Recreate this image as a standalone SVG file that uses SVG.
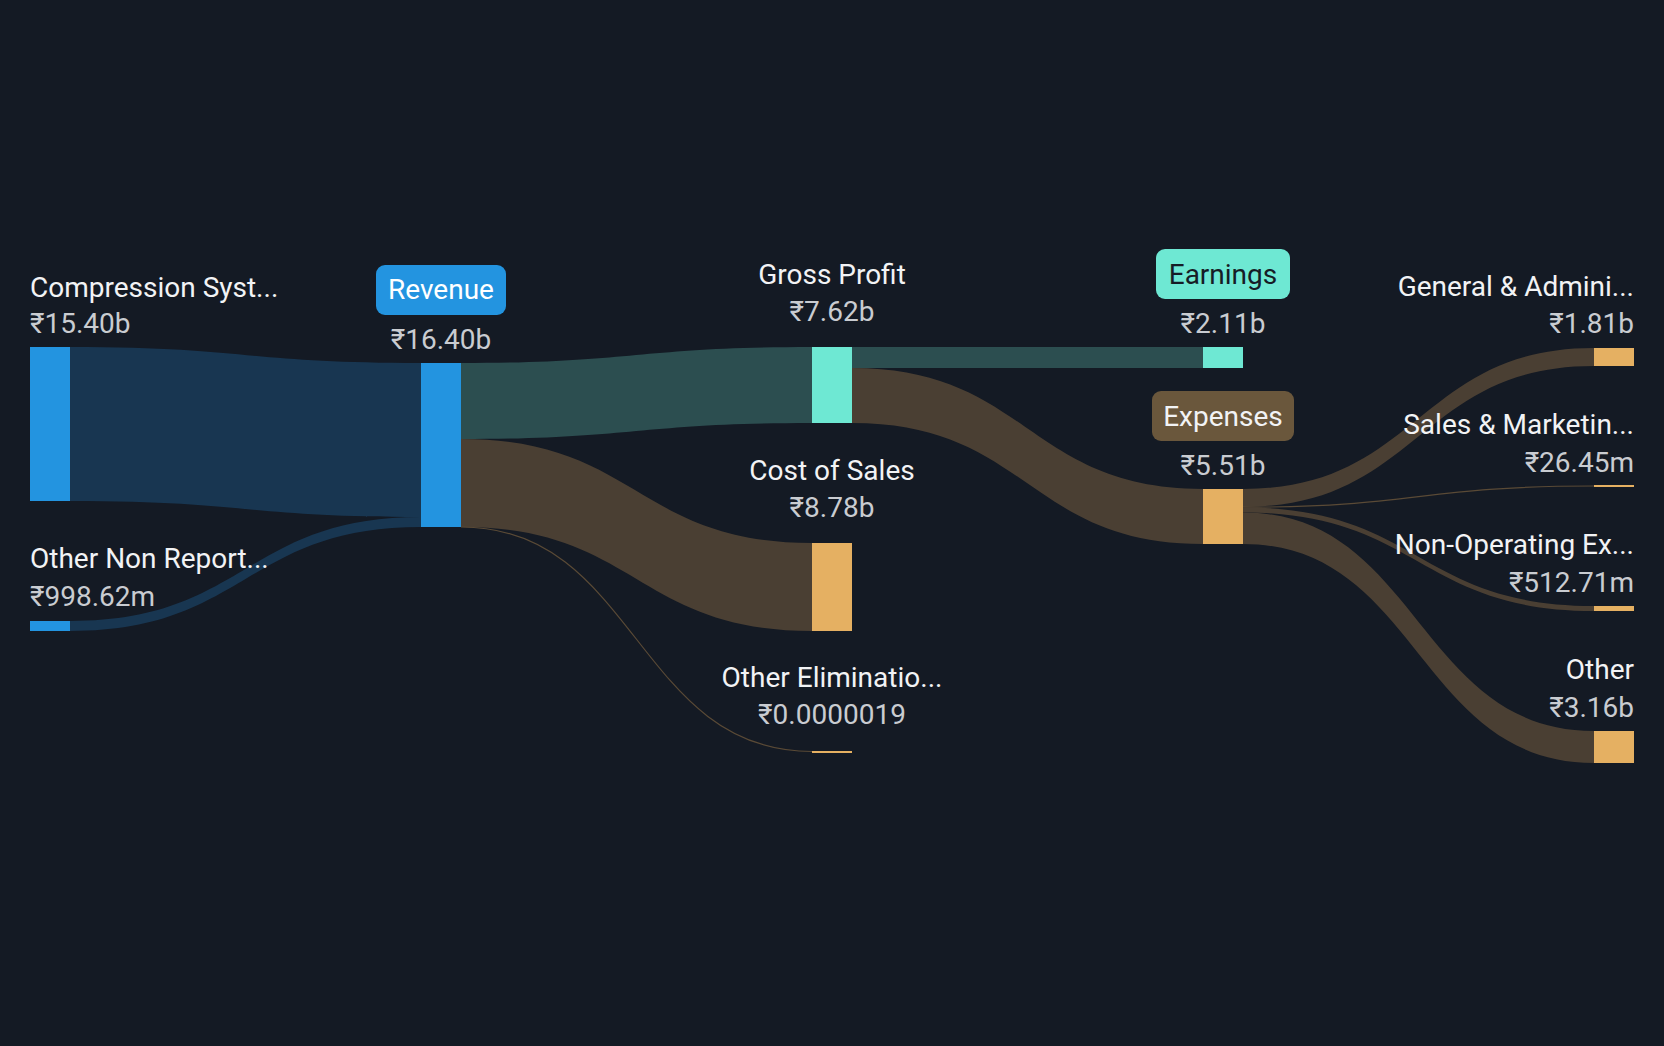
<svg xmlns="http://www.w3.org/2000/svg" width="1664" height="1046" viewBox="0 0 1664 1046">
<style>
.bg{fill:#141a24}
.lb{fill:#183651}
.lt{fill:#2c4e50}
.lo{fill:#4a3f33}
.ls{fill:none;stroke:#5a4a36;stroke-width:1.2}
.nb{fill:#2394e0}
.nt{fill:#6ee8d3}
.no{fill:#e5b062}
text{font-family:Roboto,"Liberation Sans",sans-serif;font-size:28px}
.nm{fill:#f2f3f5}
.vl{fill:#c9ccd1}
.mid{text-anchor:middle}
.end{text-anchor:end}
</style>
<rect class="bg" x="0" y="0" width="1664" height="1046"/>
<g id="links">
<path class="lb" d="M70,347 C245.5,347 245.5,363 421,363 L421,517 C245.5,517 245.5,501 70,501 Z"/>
<path class="lb" d="M70,621 C245.5,621 245.5,517 421,517 L421,527 C245.5,527 245.5,631 70,631 Z"/>
<path class="lt" d="M461,363 C636.5,363 636.5,347 812,347 L812,423 C636.5,423 636.5,439 461,439 Z"/>
<path class="lo" d="M461,439 C636.5,439 636.5,543 812,543 L812,631 C636.5,631 636.5,527 461,527 Z"/>
<path class="ls" d="M461,527 C636.5,527 636.5,751.5 812,751.5"/>
<path class="lt" d="M852,347 L1203,347 L1203,368 L852,368 Z"/>
<path class="lo" d="M852,368 C1027.5,368 1027.5,489 1203,489 L1203,544 C1027.5,544 1027.5,423 852,423 Z"/>
<path class="lo" d="M1243,489 C1418.5,489 1418.5,348 1594,348 L1594,366 C1418.5,366 1418.5,507 1243,507 Z"/>
<path class="ls" d="M1243,507.2 C1418.5,507.2 1418.5,486 1594,486"/>
<path class="lo" d="M1243,507.4 C1418.5,507.4 1418.5,606 1594,606 L1594,611 C1418.5,611 1418.5,512.5 1243,512.5 Z"/>
<path class="lo" d="M1243,512.5 C1418.5,512.5 1418.5,731 1594,731 L1594,763 C1418.5,763 1418.5,544 1243,544 Z"/>
</g>
<g id="compression">
<rect class="nb" x="30" y="347" width="40" height="154"/>
<text class="nm" x="30" y="297">Compression Syst...</text>
<text class="vl" x="30" y="333">₹15.40b</text>
</g>
<g id="other-non-report">
<rect class="nb" x="30" y="621" width="40" height="10"/>
<text class="nm" x="30" y="568">Other Non Report...</text>
<text class="vl" x="30" y="606">₹998.62m</text>
</g>
<g id="revenue">
<rect class="nb" x="421" y="363" width="40" height="164"/>
<rect class="nb" x="376" y="265" width="130" height="50" rx="9"/>
<text class="mid" x="441" y="299" fill="#ffffff">Revenue</text>
<text class="vl mid" x="441" y="349">₹16.40b</text>
</g>
<g id="gross-profit">
<rect class="nt" x="812" y="347" width="40" height="76"/>
<text class="nm mid" x="832" y="284">Gross Profit</text>
<text class="vl mid" x="832" y="321">₹7.62b</text>
</g>
<g id="cost-of-sales">
<rect class="no" x="812" y="543" width="40" height="88"/>
<text class="nm mid" x="832" y="480">Cost of Sales</text>
<text class="vl mid" x="832" y="517">₹8.78b</text>
</g>
<g id="other-eliminations">
<rect class="no" x="812" y="751" width="40" height="2"/>
<text class="nm mid" x="832" y="687">Other Eliminatio...</text>
<text class="vl mid" x="832" y="724">₹0.0000019</text>
</g>
<g id="earnings">
<rect class="nt" x="1203" y="347" width="40" height="21"/>
<rect class="nt" x="1156" y="249" width="134" height="50" rx="9"/>
<text class="mid" x="1223" y="284" fill="#161c26">Earnings</text>
<text class="vl mid" x="1223" y="333">₹2.11b</text>
</g>
<g id="expenses">
<rect class="no" x="1203" y="489" width="40" height="55"/>
<rect x="1152" y="391" width="142" height="50" rx="9" fill="#6a573c"/>
<text class="nm mid" x="1223" y="426">Expenses</text>
<text class="vl mid" x="1223" y="475">₹5.51b</text>
</g>
<g id="general-admin">
<rect class="no" x="1594" y="348" width="40" height="18"/>
<text class="nm end" x="1634" y="296">General &amp; Admini...</text>
<text class="vl end" x="1634" y="333">₹1.81b</text>
</g>
<g id="sales-marketing">
<rect class="no" x="1594" y="485" width="40" height="2"/>
<text class="nm end" x="1634" y="434">Sales &amp; Marketin...</text>
<text class="vl end" x="1634" y="472">₹26.45m</text>
</g>
<g id="non-operating">
<rect class="no" x="1594" y="606" width="40" height="5"/>
<text class="nm end" x="1634" y="554">Non-Operating Ex...</text>
<text class="vl end" x="1634" y="592">₹512.71m</text>
</g>
<g id="other">
<rect class="no" x="1594" y="731" width="40" height="32"/>
<text class="nm end" x="1634" y="679">Other</text>
<text class="vl end" x="1634" y="717">₹3.16b</text>
</g>
</svg>
